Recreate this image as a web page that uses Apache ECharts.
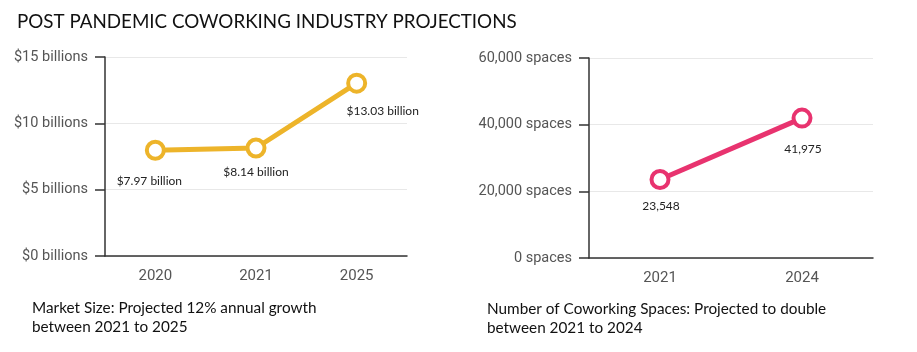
<!DOCTYPE html>
<html>
<head>
<meta charset="utf-8">
<script src="https://cdn.jsdelivr.net/npm/echarts@6/dist/echarts.min.js"></script>
<style>
  html, body { margin: 0; padding: 0; background: #fff; }
  #chart { width: 917px; height: 352px; }
</style>
</head>
<body>
<div id="chart"></div>
<script>
// market size, billions of dollars
var marketYears = ['2020', '2021', '2025'];
var marketValues = [7.97, 8.14, 13.03];
var marketLabels = ['$7.97 billion', '$8.14 billion', '$13.03 billion'];
var marketOffsets = [[-6, 31], [0, 24], [26, 28]];

// number of coworking spaces
var spaceYears = ['2021', '2024'];
var spaceValues = [23548, 41975];
var spaceLabels = ['23,548', '41,975'];
var spaceOffsets = [[1, 27], [1, 31]];

var yellow = '#EDB42A';
var pink = '#E8336F';
var axisGray = '#555';
var axisFont = 'Roboto';

function buildData(vals, labels, offsets) {
    return vals.map(function (v, i) {
        return {
            value: v,
            label: { formatter: labels[i], offset: offsets[i] }
        };
    });
}

function catAxis(idx, data) {
    return {
        type: 'category',
        gridIndex: idx,
        data: data,
        boundaryGap: true,
        axisLine: { lineStyle: { color: '#333', width: 1.5 } },
        axisTick: { alignWithLabel: true, length: 8, lineStyle: { color: '#333', width: 1.5 } },
        axisLabel: { color: axisGray, fontFamily: axisFont, fontSize: 15, margin: 13 }
    };
}

function valAxis(idx, max, interval, fmt) {
    return {
        type: 'value',
        gridIndex: idx,
        min: 0,
        max: max,
        interval: interval,
        axisLine: { show: true, lineStyle: { color: '#333', width: 1.5 } },
        axisTick: { show: true, length: 10, lineStyle: { color: '#333', width: 1.5 } },
        axisLabel: { color: axisGray, fontFamily: axisFont, fontSize: 14.5, margin: 17, formatter: fmt },
        splitLine: { lineStyle: { color: '#e8e8e8', width: 1 } }
    };
}

var chart = echarts.init(document.getElementById('chart'));
chart.setOption({
    animation: false,
    title: [
        {
            text: 'POST PANDEMIC COWORKING INDUSTRY PROJECTIONS',
            left: 17, top: 12, padding: 0,
            textStyle: { fontFamily: 'Lato', fontWeight: 'normal', fontSize: 18.8, color: '#111' }
        },
        {
            text: 'Market Size: Projected 12% annual growth\nbetween 2021 to 2025',
            left: 32, top: 298, padding: 0,
            textStyle: { fontFamily: 'Lato', fontWeight: 'normal', fontSize: 15.3, color: '#111', lineHeight: 19.5 }
        },
        {
            text: 'Number of Coworking Spaces: Projected to double\nbetween 2021 to 2024',
            left: 487, top: 299, padding: 0,
            textStyle: { fontFamily: 'Lato', fontWeight: 'normal', fontSize: 15.3, color: '#111', lineHeight: 19.5 }
        }
    ],
    grid: [
        { left: 105, top: 57, width: 302, height: 199 },
        { left: 589, top: 58, width: 284, height: 200 }
    ],
    xAxis: [catAxis(0, marketYears), catAxis(1, spaceYears)],
    yAxis: [
        valAxis(0, 15, 5, function (v) { return '$' + v + ' billions'; }),
        valAxis(1, 60000, 20000, function (v) { return v.toLocaleString('en-US') + ' spaces'; })
    ],
    series: [
        {
            type: 'line',
            xAxisIndex: 0, yAxisIndex: 0,
            data: buildData(marketValues, marketLabels, marketOffsets),
            symbol: 'circle',
            symbolSize: 17,
            lineStyle: { color: yellow, width: 5 },
            itemStyle: { color: '#fff', borderColor: yellow, borderWidth: 4 },
            label: { show: true, position: 'inside', color: '#222', fontFamily: 'Lato', fontSize: 12 }
        },
        {
            type: 'line',
            xAxisIndex: 1, yAxisIndex: 1,
            data: buildData(spaceValues, spaceLabels, spaceOffsets),
            symbol: 'circle',
            symbolSize: 17,
            lineStyle: { color: pink, width: 5 },
            itemStyle: { color: '#fff', borderColor: pink, borderWidth: 4 },
            label: { show: true, position: 'inside', color: '#222', fontFamily: 'Lato', fontSize: 12 }
        }
    ]
});
</script>
</body>
</html>
